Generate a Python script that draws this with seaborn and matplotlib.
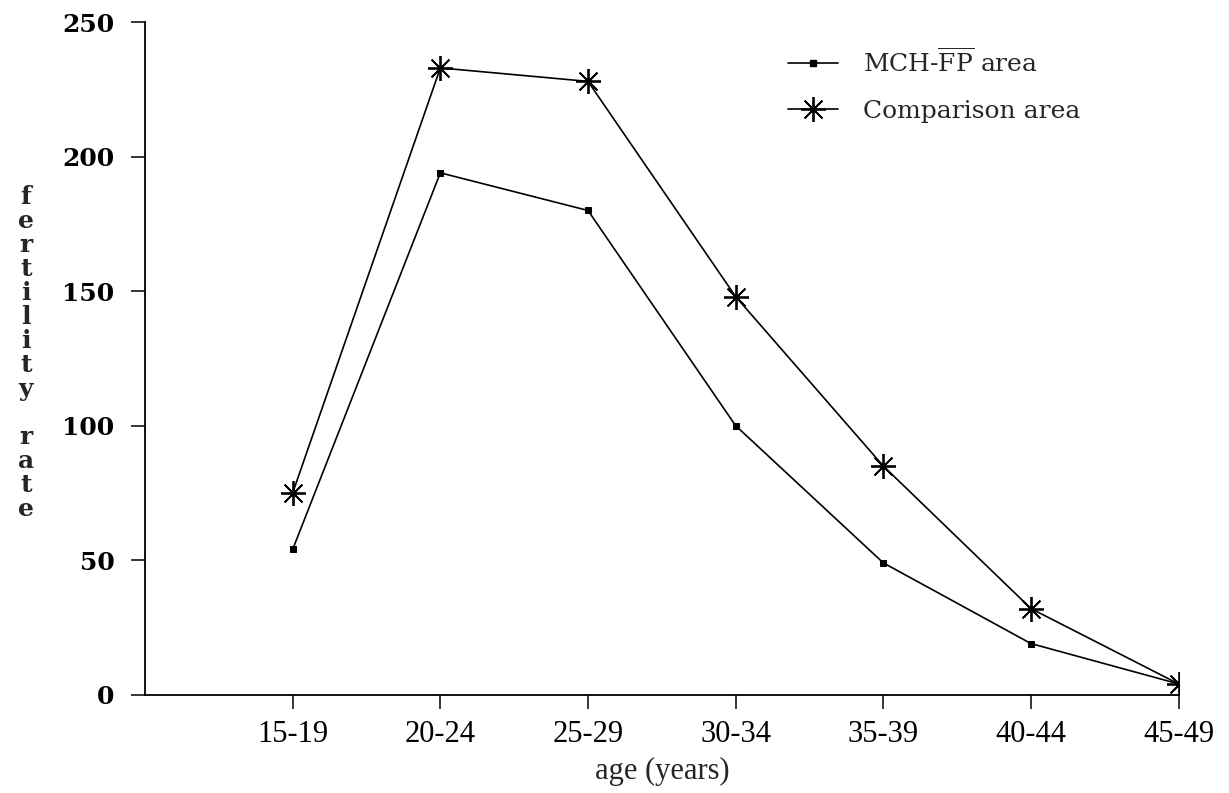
import numpy as np
import pandas as pd
import matplotlib
matplotlib.use("Agg")
import matplotlib.pyplot as plt
import seaborn as sns
from matplotlib.lines import Line2D

# ---- data ----
age_groups = ["15-19", "20-24", "25-29", "30-34", "35-39", "40-44", "45-49"]
mch_fp = [54, 194, 180, 100, 49, 19, 4]
comparison = [75, 233, 228, 148, 85, 32, 4]
y_ticks = [0, 50, 100, 150, 200, 250]

sns.set_theme(style="white")
plt.rcParams["font.family"] = ["DejaVu Serif", "DejaVu Sans"]
plt.rcParams["mathtext.fontset"] = "dejavuserif"

pos = np.arange(1, len(age_groups) + 1)
df = pd.DataFrame({
    "pos": np.concatenate([pos, pos]),
    "rate": mch_fp + comparison,
    "series": ["MCH-FP"] * len(pos) + ["Comparison"] * len(pos),
})

fig = plt.figure(figsize=(12.29, 7.93), dpi=100)
ax = fig.add_axes([0.118, 0.124, 0.841, 0.848])

sns.lineplot(data=df[df.series == "MCH-FP"], x="pos", y="rate", ax=ax,
             color="black", linewidth=1.2, marker="s", markersize=5,
             markeredgecolor="black", markerfacecolor="black")
sns.lineplot(data=df[df.series == "Comparison"], x="pos", y="rate", ax=ax,
             color="black", linewidth=1.2, marker=(8, 2, 0), markersize=18,
             markeredgewidth=1.3, markeredgecolor="black")

ax.set_xlim(0, len(age_groups))
ax.set_ylim(0, 250)
ax.set_xticks(pos)
ax.set_xticklabels(age_groups, fontfamily="Liberation Serif", fontsize=22)
ax.set_yticks(y_ticks)
ax.set_yticklabels([str(t) for t in y_ticks], fontsize=18, fontweight="bold")

for s in ["top", "right"]:
    ax.spines[s].set_visible(False)
for s in ["left", "bottom"]:
    ax.spines[s].set_color("black")
    ax.spines[s].set_linewidth(1.3)

ax.tick_params(axis="x", direction="out", length=10, width=1.1, pad=8, colors="black")
ax.tick_params(axis="y", direction="out", length=10, width=1.1, pad=12, colors="black")
ax.tick_params(axis="both", bottom=True, left=True)

ax.set_xlabel("age (years)", fontfamily="Liberation Serif", fontsize=22, labelpad=6)
ax.set_ylabel("")

label = "\n".join(list("fertility") + [""] + list("rate"))
fig.text(0.021, 0.555, label, fontsize=18, ha="center", va="center",
         linespacing=1.0, fontfamily="DejaVu Serif", fontweight="bold")

handles = [
    Line2D([], [], color="black", linewidth=1.2, marker="s", markersize=5),
    Line2D([], [], color="black", linewidth=1.2, marker=(8, 2, 0), markersize=18,
           markeredgewidth=1.3),
]
labels = [r"MCH-$\overline{\mathrm{FP}}$ area", "Comparison area"]
ax.legend(handles, labels, loc="upper left", bbox_to_anchor=(0.6, 0.995),
          frameon=False, fontsize=18, handlelength=2.0, labelspacing=0.9,
          handletextpad=1.0)

fig.savefig("out.png", dpi=100, facecolor="white")
